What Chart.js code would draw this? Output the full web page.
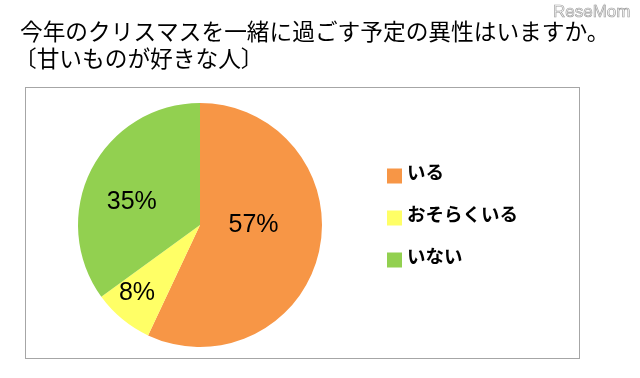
<html>
<head>
  <title>クリスマス</title>
  <script src="https://cdn.jsdelivr.net/npm/chart.js"></script>
  <style>
    body { margin: 0; background: #fff; }
    #wrap { width: 640px; height: 378px; position: relative; }
  </style>
</head>
<body>
  <div id="wrap">
    <canvas id="pieChart" width="640" height="378"></canvas>
  </div>
  <script>
    const titleLines = ['今年のクリスマスを一緒に過ごす予定の異性はいますか。', '〔甘いものが好きな人〕'];
    const categories = ['いる', 'おそらくいる', 'いない'];
    const values = [57, 8, 35];
    const colors = ['#F79646', '#FFFF66', '#92D050'];

    // draws the frame, title, slice labels and legend
    const decor = {
      id: 'decor',
      beforeDraw(chart) {
        const ctx = chart.ctx;
        ctx.save();
        ctx.fillStyle = '#fff';
        ctx.fillRect(0, 0, chart.width, chart.height);
        ctx.strokeStyle = '#a6a6a6';
        ctx.lineWidth = 1;
        ctx.strokeRect(25.5, 87.5, 554, 271);
        ctx.fillStyle = '#000';
        ctx.font = '22.7px "Noto Sans CJK JP"';
        ctx.textBaseline = 'middle';
        ctx.fillText(titleLines[0], 20, 31);
        ctx.fillText(titleLines[1], 14, 58);
        // watermark
        ctx.font = '17px "Liberation Sans"';
        ctx.textBaseline = 'alphabetic';
        ctx.strokeStyle = '#a0a0a0';
        ctx.lineWidth = 0.7;
        ctx.strokeText('ReseMom', 553, 17);
        ctx.restore();
      },
      afterDatasetsDraw(chart, args, opts) {
        const ctx = chart.ctx;
        const meta = chart.getDatasetMeta(0);
        ctx.save();
        ctx.fillStyle = '#000';
        ctx.textAlign = 'center';
        ctx.textBaseline = 'middle';
        ctx.font = '25px "Liberation Sans"';
        meta.data.forEach((arc, i) => {
          const p = arc.getProps(['x', 'y', 'startAngle', 'endAngle', 'outerRadius'], true);
          const mid = (p.startAngle + p.endAngle) / 2;
          const r = p.outerRadius * opts.labelRadius[i];
          const s = opts.labelShift[i];
          ctx.fillText(values[i] + '%', p.x + Math.cos(mid) * r + s[0], p.y + Math.sin(mid) * r + s[1]);
        });
        // legend
        ctx.textAlign = 'left';
        ctx.font = 'bold 18.5px "Noto Sans CJK JP"';
        categories.forEach((c, i) => {
          const y = 176 + i * 42;
          ctx.fillStyle = colors[i];
          ctx.fillRect(387, y - 7.5, 15, 15);
          ctx.fillStyle = '#000';
          ctx.fillText(c, 407, y - 4);
        });
        ctx.restore();
      }
    };

    new Chart(document.getElementById('pieChart'), {
      type: 'pie',
      data: {
        labels: categories,
        datasets: [{
          data: values,
          backgroundColor: colors,
          borderWidth: 0
        }]
      },
      options: {
        responsive: false,
        animation: false,
        layout: { padding: { left: 78, right: 318, top: 103, bottom: 31 } },
        plugins: {
          legend: { display: false },
          tooltip: { enabled: false },
          decor: {
            labelRadius: [0.45, 0.72, 0.6],
            labelShift: [[0, -12], [-7, 0], [-3, 10]]
          }
        }
      },
      plugins: [decor]
    });
  </script>
</body>
</html>
